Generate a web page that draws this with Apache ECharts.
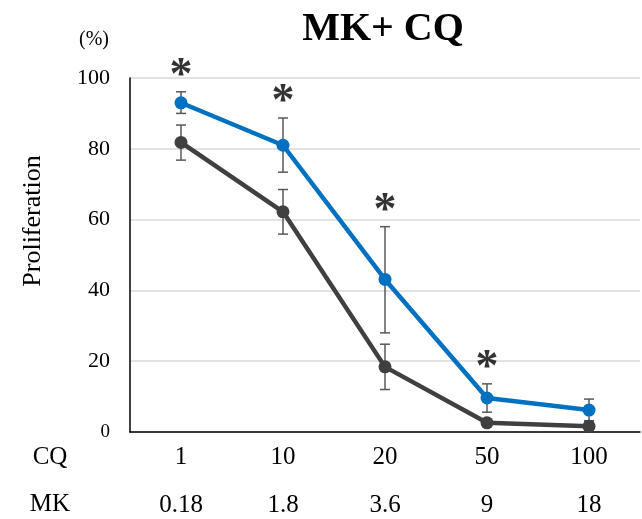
<!DOCTYPE html>
<html><head><meta charset="utf-8">
<script src="https://cdn.jsdelivr.net/npm/echarts@6/dist/echarts.min.js"></script>
<style>html,body{margin:0;padding:0;background:#fff}#c{width:642px;height:519px}</style>
</head><body><div id="c"></div>
<script>
const cqLabels = ['1', '10', '20', '50', '100'];
const mkLabels = ['0.18', '1.8', '3.6', '9', '18'];
const yTicks = [0, 20, 40, 60, 80, 100];

const blueMean = [93.0, 81.0, 43.1, 9.6, 6.2];
const blueLow  = [90.0, 73.4, 28.0, 5.6, 3.2];
const blueHigh = [96.1, 88.7, 58.0, 13.6, 9.3];

const darkMean = [81.8, 62.2, 18.4, 2.6, 1.6];
const darkLow  = [76.8, 55.9, 12.0, 1.8, 0.6];
const darkHigh = [86.7, 68.5, 24.8, 3.6, 3.0];

const signif = [true, true, true, true, false];

const SERIF = '"Liberation Serif", "Times New Roman", serif';

function errSeries(low, high) {
  return {
    type: 'custom',
    z: 1,
    data: low.map((l, i) => [i, l, high[i]]),
    renderItem: function (params, api) {
      const x = api.value(0);
      const lo = api.coord([x, api.value(1)]);
      const hi = api.coord([x, api.value(2)]);
      const w = 5;
      const st = { stroke: '#595959', lineWidth: 1.5 };
      return {
        type: 'group',
        children: [
          { type: 'line', shape: { x1: lo[0], y1: lo[1], x2: hi[0], y2: hi[1] }, style: st },
          { type: 'line', shape: { x1: lo[0] - w, y1: lo[1], x2: lo[0] + w, y2: lo[1] }, style: st },
          { type: 'line', shape: { x1: hi[0] - w, y1: hi[1], x2: hi[0] + w, y2: hi[1] }, style: st }
        ]
      };
    }
  };
}

const chart = echarts.init(document.getElementById('c'));
chart.setOption({
  animation: false,
  grid: { left: 130, right: 2, top: 78, bottom: 87, containLabel: false, outerBoundsMode: 'none' },
  xAxis: {
    type: 'category',
    data: cqLabels,
    boundaryGap: true,
    axisLine: { lineStyle: { color: '#000', width: 1.5 } },
    axisTick: { show: false },
    axisLabel: {
      fontFamily: SERIF, fontSize: 25, color: '#000', margin: 1,
      lineHeight: 48,
      formatter: function (v, i) { return v + '\n' + mkLabels[i]; }
    }
  },
  yAxis: {
    type: 'value', min: 0, max: 100, interval: 20,
    axisLine: { show: true, lineStyle: { color: '#000', width: 1.5 } },
    axisTick: { show: false },
    splitLine: { lineStyle: { color: '#d9d9d9', width: 1.5 } },
    axisLabel: {
      fontFamily: SERIF, fontSize: 22, color: '#000', margin: 20,
      formatter: function (v) { return yTicks.indexOf(v) === 0 ? '{s|' + v + '}' : String(v); },
      rich: { s: { fontFamily: SERIF, fontSize: 19, color: '#000' } }
    }
  },
  graphic: [
    { type: 'text', x: 383, y: 30, style: { text: 'MK+ CQ', font: 'bold 40px ' + SERIF, fill: '#000', align: 'center', verticalAlign: 'middle' } },
    { type: 'text', x: 94, y: 40, style: { text: '(%)', font: '20px ' + SERIF, fill: '#000', align: 'center', verticalAlign: 'middle' } },
    { type: 'text', x: 33, y: 221, rotation: Math.PI / 2, style: { text: 'Proliferation', font: '26px ' + SERIF, fill: '#000', align: 'center', verticalAlign: 'middle' } },
    { type: 'text', x: 50, y: 457, style: { text: 'CQ', font: '25px ' + SERIF, fill: '#000', align: 'center', verticalAlign: 'middle' } },
    { type: 'text', x: 50, y: 504, style: { text: 'MK', font: '25px ' + SERIF, fill: '#000', align: 'center', verticalAlign: 'middle' } }
  ],
  series: [
    errSeries(darkLow, darkHigh),
    errSeries(blueLow, blueHigh),
    {
      type: 'line', data: darkMean, z: 3,
      symbol: 'circle', symbolSize: 13,
      lineStyle: { color: '#404040', width: 4.5 },
      itemStyle: { color: '#404040' }
    },
    {
      type: 'line', data: blueMean, z: 4,
      symbol: 'circle', symbolSize: 13,
      lineStyle: { color: '#0070c0', width: 4.5 },
      itemStyle: { color: '#0070c0' }
    },
    {
      type: 'scatter', z: 5, symbolSize: 0,
      data: blueHigh.map((h, i) => signif[i] ? [i, h] : null).filter(d => d),
      label: {
        show: true, position: 'top', distance: -8, formatter: '*',
        fontFamily: SERIF, fontWeight: 'bold', fontSize: 46, color: '#000'
      }
    }
  ]
});
</script>
</body></html>
